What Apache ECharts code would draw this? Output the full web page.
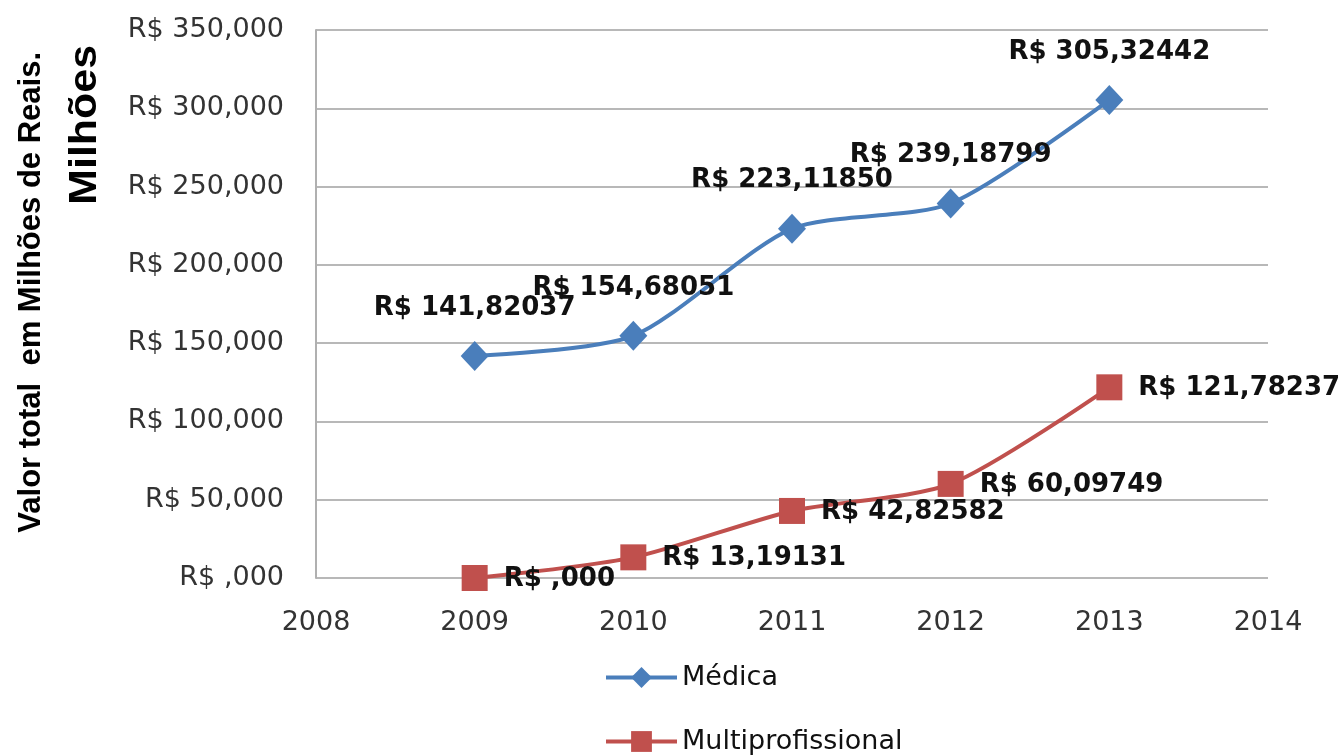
<!DOCTYPE html>
<html>
<head>
<meta charset="utf-8">
<script src="https://cdn.jsdelivr.net/npm/echarts@6/dist/echarts.min.js"></script>
<style>
  html, body { margin: 0; padding: 0; background: #fff; }
  #chart { width: 1343px; height: 755px; }
</style>
</head>
<body>
<div id="chart"></div>
<script>
const years = [2009, 2010, 2011, 2012, 2013]
const medica = [141.82037, 154.68051, 223.11850, 239.18799, 305.32442]
const multiprofissional = [0, 13.19131, 42.82582, 60.09749, 121.78237]

const FONT = '"DejaVu Sans"'
const TITLE_FONT = '"Liberation Sans"'

function moneyLabel(v) {
  if (v === 0) return 'R$ ,000'
  return 'R$ ' + v.toFixed(5).replace('.', ',')
}

function pairs(values) {
  return years.map((y, i) => [y, values[i]])
}

const chart = echarts.init(document.getElementById('chart'))

const option = {
  animation: false,
  textStyle: { fontFamily: FONT },
  grid: {
    left: 316,
    right: 75,
    top: 30,
    bottom: 177,
  },
  legend: {
    orient: 'vertical',
    left: 604,
    top: 664,
    height: 91,
    padding: 0,
    itemWidth: 71,
    itemHeight: 26,
    itemGap: 37,
    lineStyle: { width: 4 },
    textStyle: { fontSize: 27, lineHeight: 26, color: '#111', fontFamily: FONT },
    data: ['Médica', 'Multiprofissional'],
  },
  xAxis: {
    type: 'value',
    min: 2008,
    max: 2014,
    interval: 1,
    axisLine: { show: false },
    axisTick: { show: false },
    splitLine: { show: false },
    axisLabel: { fontSize: 27, color: '#333', margin: 31, fontFamily: FONT, formatter: v => String(v) },
  },
  yAxis: {
    type: 'value',
    min: 0,
    max: 350,
    interval: 50,
    axisLine: { show: true, lineStyle: { color: '#b0b0b0', width: 2 } },
    axisTick: { show: false },
    splitLine: { lineStyle: { color: '#b8b8b8', width: 2 } },
    axisLabel: {
      fontSize: 27,
      color: '#333',
      margin: 32,
      fontFamily: FONT,
      formatter: v => 'R$ ' + (v === 0 ? '' : v) + ',000',
    },
  },
  graphic: [
    {
      type: 'text',
      left: 16,
      top: 52,
      rotation: Math.PI / 2,
      style: {
        text: 'Valor total  em Milhões de Reais.',
        font: 'bold 31px ' + TITLE_FONT,
        fill: '#000',
      },
    },
    {
      type: 'text',
      left: 66,
      top: 45,
      rotation: Math.PI / 2,
      scaleX: 1.1,
      style: {
        text: 'Milhões',
        font: 'bold 39px ' + TITLE_FONT,
        fill: '#000',
      },
    },
  ],
  series: [
    {
      name: 'Médica',
      type: 'line',
      smooth: 0.25,
      data: pairs(medica),
      symbol: 'diamond',
      symbolSize: [28, 30],
      lineStyle: { color: '#4a7ebb', width: 4 },
      itemStyle: { color: '#4a7ebb' },
      label: {
        show: true,
        position: 'top',
        distance: 20,
        fontSize: 26,
        fontWeight: 'bold',
        color: '#111',
        fontFamily: FONT,
        formatter: p => moneyLabel(p.value[1]),
      },
    },
    {
      name: 'Multiprofissional',
      type: 'line',
      smooth: 0.25,
      data: pairs(multiprofissional),
      symbol: 'rect',
      symbolSize: 26,
      lineStyle: { color: '#c0504d', width: 4 },
      itemStyle: { color: '#c0504d' },
      label: {
        show: true,
        position: 'right',
        distance: 16,
        fontSize: 26,
        fontWeight: 'bold',
        color: '#111',
        fontFamily: FONT,
        offset: [0, 1],
        formatter: p => moneyLabel(p.value[1]),
      },
    },
  ],
}

chart.setOption(option)
</script>
</body>
</html>
